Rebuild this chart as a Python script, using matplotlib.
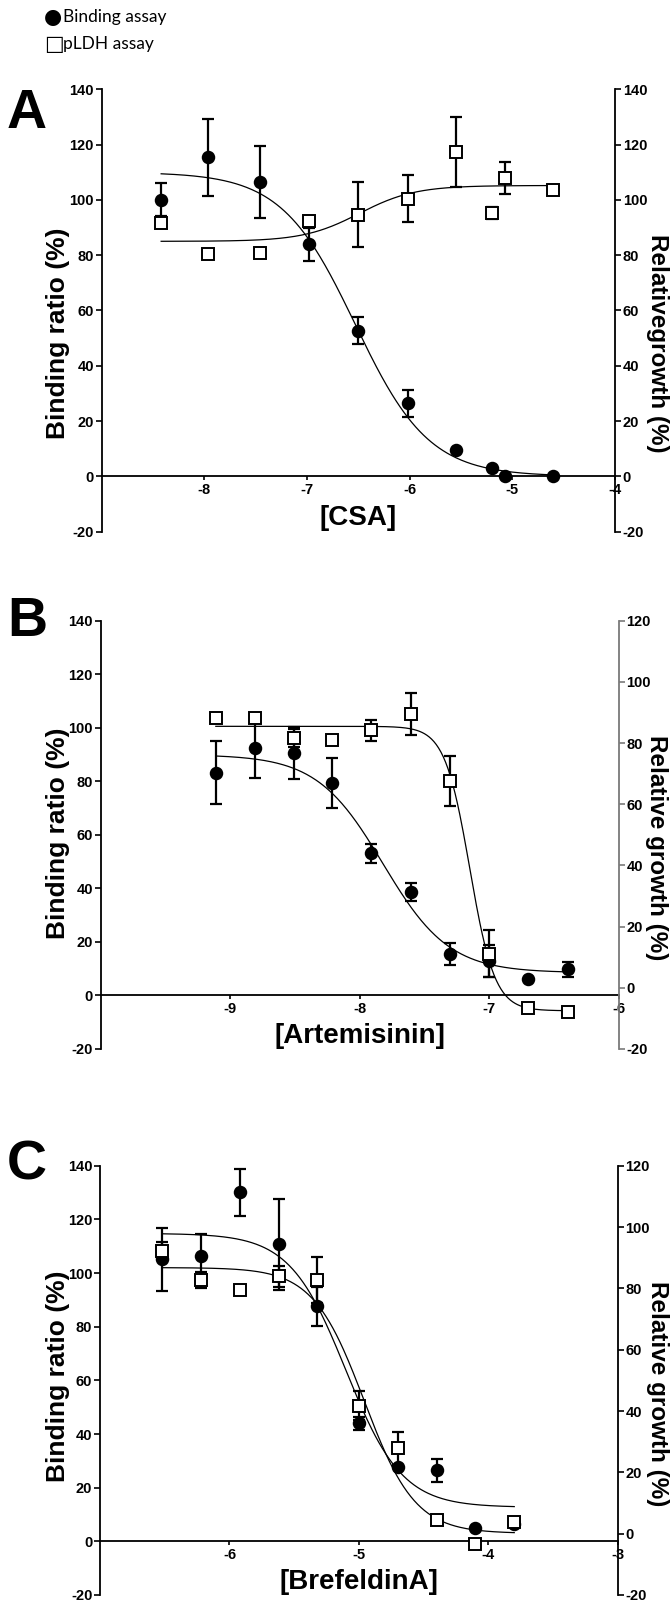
import numpy as np
import matplotlib
matplotlib.use("Agg")
import matplotlib.pyplot as plt

plt.rcParams["axes.unicode_minus"] = False

# ---------------- data ----------------
# Panel A : CSA
a_x = [-8.42, -7.96, -7.46, -6.98, -6.50, -6.02, -5.55, -5.20, -5.07, -4.60]
a_bind = [100.0, 115.4, 106.4, 83.9, 52.7, 26.4, 9.6, 3.0, 0.0, 0.0]
a_bind_err = [6.0, 14.0, 13.0, 6.0, 5.0, 5.0, 0.0, 0.0, 0.0, 0.0]
a_pldh = [91.7, 80.3, 80.9, 92.5, 94.7, 100.4, 117.2, 95.3, 107.9, 103.4]
a_pldh_err = [0.0, 0.0, 0.8, 0.0, 11.6, 8.5, 12.6, 2.3, 5.8, 0.0]
# fit parameters: [low-dose plateau, high-dose plateau, logEC50, hill]
a_bind_fit = [110.0, 0.0, -6.53, 1.21]
a_pldh_fit = [85.0, 105.2, -6.49, 1.6]

# Panel B : Artemisinin
b_x = [-9.11, -8.81, -8.51, -8.21, -7.91, -7.60, -7.30, -7.00, -6.70, -6.39]
b_bind = [83.2, 92.3, 90.6, 79.4, 53.1, 38.7, 15.4, 12.9, 6.1, 9.8]
b_bind_err = [11.8, 11.0, 9.6, 9.2, 3.6, 3.4, 4.1, 6.0, 0.0, 2.8]
b_pldh = [88.2, 88.2, 81.7, 81.0, 84.2, 89.6, 67.6, 11.2, -6.7, -7.8]
b_pldh_err = [0.0, 0.0, 3.0, 0.0, 3.4, 6.9, 8.1, 7.7, 0.0, 0.0]
b_bind_fit = [90.0, 8.5, -7.82, 1.7]
b_pldh_fit = [85.5, -7.5, -7.15, 4.5]

# Panel C : Brefeldin A
c_x = [-6.52, -6.22, -5.92, -5.62, -5.32, -5.00, -4.70, -4.40, -4.10, -3.80]
c_bind = [105.1, 106.5, 130.1, 110.7, 87.6, 44.0, 27.6, 26.5, 5.1, 6.3]
c_bind_err = [11.6, 8.0, 8.7, 17.0, 7.3, 2.5, 0.0, 4.2, 0.0, 0.0]
c_pldh = [92.3, 82.6, 79.6, 83.9, 82.8, 41.8, 27.8, 4.6, -3.4, 3.7]
c_pldh_err = [3.0, 2.6, 0.0, 3.5, 7.5, 4.7, 5.5, 0.0, 0.0, 0.0]
c_bind_fit = [114.8, 12.7, -5.10, 2.0]
c_pldh_fit = [86.8, 0.1, -4.96, 2.2]

panel_letters = ["A", "B", "C"]
x_labels = ["[CSA]", "[Artemisinin]", "[BrefeldinA]"]
right_labels = ["Relativegrowth (%)", "Relative growth (%)", "Relative growth (%)"]
left_label = "Binding ratio (%)"
x_limits = [(-9, -4), (-10, -6), (-7, -3)]
x_ticks = [[-8, -7, -6, -5, -4], [-9, -8, -7, -6], [-6, -5, -4, -3]]
left_ylim = (-20, 140)
right_ylims = [(-20, 140), (-20, 120), (-20, 120)]
legend_symbols = ["\u25cf", "\u25a1"]
legend_labels = ["Binding assay", "pLDH assay"]

# ---------------- figure ----------------
W, H = 672, 1609
fig = plt.figure(figsize=(W / 100, H / 100), dpi=100)
FONT = "Liberation Sans"

# panel rectangles in pixels: left, right, top, bottom
rects = [(101.6, 615.0, 89.3, 531.6),
         (100.5, 618.8, 620.8, 1049.0),
         (100.0, 617.8, 1165.8, 1595.0)]
letter_y = [128, 636, 1180]
ylab_frac = [0.448, 0.505, 0.51]
rlab_frac = [0.425, 0.47, 0.468]
right_spine_col = ["black", "#7a7a7a", "black"]


def four_pl(xs, p):
    lo, hi, c, h = p
    return lo + (hi - lo) / (1.0 + 10 ** ((c - xs) * h))


def draw_series(ax, x, y, err, marker, face, fitp, z):
    x = np.asarray(x); y = np.asarray(y); err = np.asarray(err)
    xs = np.linspace(x.min(), x.max(), 300)
    ax.plot(xs, four_pl(xs, fitp), color="black", lw=0.9, zorder=z)
    m = err > 0
    ax.errorbar(x[m], y[m], yerr=err[m], fmt="none", ecolor="black",
                elinewidth=1.6, capsize=4.2, capthick=1.6, zorder=z + 1)
    ax.plot(x, y, linestyle="none", marker=marker, markersize=8.3,
            markerfacecolor=face, markeredgecolor="black",
            markeredgewidth=1.4, zorder=z + 2)


datasets = [
    (a_x, a_bind, a_bind_err, a_bind_fit, a_pldh, a_pldh_err, a_pldh_fit),
    (b_x, b_bind, b_bind_err, b_bind_fit, b_pldh, b_pldh_err, b_pldh_fit),
    (c_x, c_bind, c_bind_err, c_bind_fit, c_pldh, c_pldh_err, c_pldh_fit),
]

for i, (l, r, t, b) in enumerate(rects):
    ax = fig.add_axes([l / W, 1 - b / H, (r - l) / W, (b - t) / H])
    ax.patch.set_visible(False)
    ax2 = ax.twinx()
    xd, yb, eb, fb, yp, ep, fp = datasets[i]

    draw_series(ax, xd, yb, eb, "o", "black", fb, 2)
    draw_series(ax2, xd, yp, ep, "s", "white", fp, 3)

    ax.set_xlim(*x_limits[i])
    ax.set_ylim(*left_ylim)
    ax2.set_ylim(*right_ylims[i])
    ax.set_yticks(range(-20, 141, 20))
    ax2.set_yticks(range(right_ylims[i][0], right_ylims[i][1] + 1, 20))
    ax.set_xticks(x_ticks[i])

    for a in (ax, ax2):
        a.spines["top"].set_visible(False)
    ax.spines["right"].set_visible(False)
    ax2.spines["left"].set_visible(False)
    ax2.spines["bottom"].set_visible(False)
    ax.spines["bottom"].set_position(("data", 0))
    ax.spines["left"].set_linewidth(1.3)
    ax.spines["bottom"].set_linewidth(1.3)
    ax2.spines["right"].set_linewidth(1.3)
    ax2.spines["right"].set_color(right_spine_col[i])

    ax.tick_params(axis="y", direction="out", length=4, width=1.2, pad=1.5)
    ax2.tick_params(axis="y", direction="out", length=4, width=1.2, pad=1.5,
                    color=right_spine_col[i])
    ax.tick_params(axis="x", direction="out", length=3, width=1.2, pad=2)
    for lab in ax.get_xticklabels() + ax.get_yticklabels() + ax2.get_yticklabels():
        lab.set_fontfamily(FONT)
        lab.set_fontweight("bold")
        lab.set_fontsize(10.5)

    # axis titles
    ax.text((58 - l) / (r - l), ylab_frac[i], left_label, transform=ax.transAxes,
            rotation=90, ha="center", va="center", fontsize=19,
            fontweight="bold", fontfamily=FONT, zorder=0)
    ax2.text((657 - l) / (r - l), rlab_frac[i], right_labels[i],
             transform=ax2.transAxes, rotation=270, ha="center", va="center",
             fontsize=17.5, fontweight="bold", fontfamily=FONT)
    ax.text(np.mean(x_limits[i]), -15, x_labels[i], ha="center", va="center",
            fontsize=20, fontweight="bold", fontfamily=FONT)

    fig.text(7 / W, 1 - letter_y[i] / H, panel_letters[i], fontsize=40,
             fontweight="bold", fontfamily=FONT, va="baseline", ha="left")

for k, yy in enumerate([17, 44]):
    fig.text(44 / W, 1 - yy / H, legend_symbols[k], fontsize=15,
             family="DejaVu Sans", va="center", ha="left")
    fig.text(63 / W, 1 - yy / H, legend_labels[k], fontsize=12.5,
             family=["Lato", "DejaVu Sans"], va="center", ha="left")

fig.savefig("out.png", dpi=100)
